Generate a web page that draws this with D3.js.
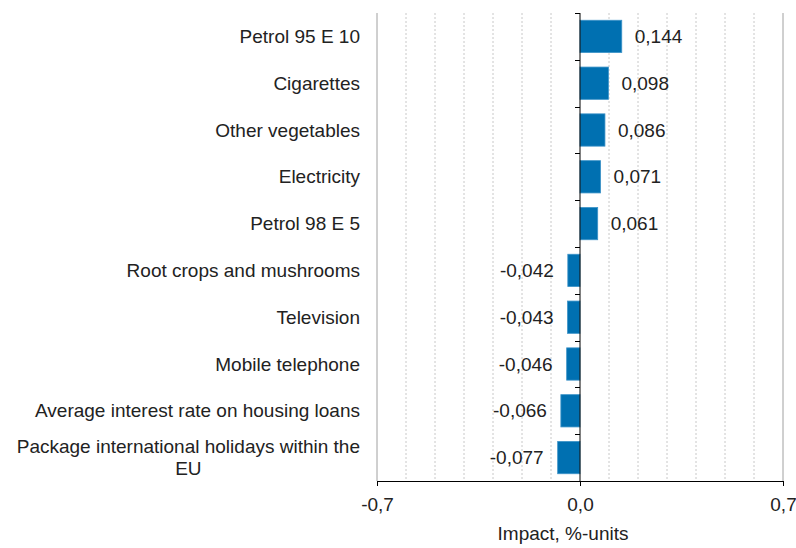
<!DOCTYPE html>
<html>
<head>
<meta charset="utf-8">
<script src="https://cdn.jsdelivr.net/npm/d3@7"></script>
<style>
  body { margin: 0; background: #fff; }
  text { font-family: "Liberation Sans", Arial, sans-serif; fill: #222; }
</style>
</head>
<body>
<div id="chart"></div>
<script>
// values
var categories = [
  'Petrol 95 E 10',
  'Cigarettes',
  'Other vegetables',
  'Electricity',
  'Petrol 98 E 5',
  'Root crops and mushrooms',
  'Television',
  'Mobile telephone',
  'Average interest rate on housing loans',
  'Package international holidays within the EU'
];
var impacts = [0.144, 0.098, 0.086, 0.071, 0.061, -0.042, -0.043, -0.046, -0.066, -0.077];
var xTicks = [-0.7, 0, 0.7];
var gridTicks = [-0.6, -0.5, -0.4, -0.3, -0.2, -0.1, 0.1, 0.2, 0.3, 0.4, 0.5, 0.6];

var margin = { top: 13, right: 13, bottom: 67, left: 377 },
    width = 796 - margin.left - margin.right,
    height = 548 - margin.top - margin.bottom,
    fontSize = '19px';

// comma decimals, plain hyphen for minus
var fmt = function(v) { return d3.format('.3f')(v).replace('.', ',').replace('\u2212', '-'); };

var svg = d3.select('#chart').append('svg')
    .attr('width', 796)
    .attr('height', 548);

var g = svg.append('g')
    .attr('transform', 'translate(' + margin.left + ',' + margin.top + ')');

var x = d3.scaleLinear().domain([-0.7, 0.7]).range([0, width]);
var y = d3.scaleBand().domain(categories).range([0, height]).paddingInner(0.31).paddingOuter(0.155);
var yTicks = d3.scaleBand().domain(categories).range([0, height]);

// gridlines
g.selectAll('.grid').data(gridTicks)
  .enter().append('line')
    .attr('x1', function(d) { return x(d); })
    .attr('x2', function(d) { return x(d); })
    .attr('y1', 0).attr('y2', height)
    .attr('stroke', '#c8c8c8')
    .attr('stroke-dasharray', '2,2');

g.selectAll('.edge').data([-0.7, 0.7])
  .enter().append('line')
    .attr('x1', function(d) { return x(d); })
    .attr('x2', function(d) { return x(d); })
    .attr('y1', 0).attr('y2', height)
    .attr('stroke', '#a0a0a0');

// bars
g.selectAll('rect').data(impacts)
  .enter().append('rect')
    .attr('x', function(d) { return x(Math.min(0, d)); })
    .attr('width', function(d) { return Math.abs(x(d) - x(0)); })
    .attr('y', function(d, i) { return y(categories[i]); })
    .attr('height', y.bandwidth())
    .attr('fill', '#0070b1')
    .attr('stroke', '#3d93c8')
    .attr('stroke-width', 0.8);

// value labels
g.selectAll('.val').data(impacts)
  .enter().append('text')
    .attr('x', function(d) { return d >= 0 ? x(d) + 13 : x(d) - 14; })
    .attr('y', function(d, i) { return y(categories[i]) + y.bandwidth() / 2; })
    .attr('dy', '0.35em')
    .attr('text-anchor', function(d) { return d >= 0 ? 'start' : 'end'; })
    .style('font-size', fontSize)
    .text(fmt);

// y axis at zero
var yAxis = g.append('g').attr('transform', 'translate(' + x(0) + ',0)');
yAxis.append('line')
    .attr('y1', 0).attr('y2', height)
    .attr('stroke', '#000');
yAxis.selectAll('.tk').data(categories)
  .enter().append('line')
    .attr('x1', -5).attr('x2', 0)
    .attr('y1', function(d) { return Math.round(yTicks(d)) + 0.5; })
    .attr('y2', function(d) { return Math.round(yTicks(d)) + 0.5; })
    .attr('stroke', '#000');

// x axis
var xAxis = d3.axisBottom(x)
    .tickValues(xTicks)
    .tickSize(5)
    .tickSizeOuter(0)
    .tickFormat(function(d) { return d3.format('.1f')(d).replace('.', ',').replace('\u2212', '-'); });

var xg = g.append('g')
    .attr('transform', 'translate(0,' + height + ')')
    .call(xAxis);
xg.select('.domain').attr('stroke', '#000');
xg.selectAll('.tick line').attr('stroke', '#000');
xg.selectAll('.tick text')
    .attr('y', 17)
    .style('font-size', fontSize)
    .style('font-family', '"Liberation Sans", Arial, sans-serif')
    .attr('fill', '#222');

g.append('text')
    .attr('x', x(0) - 17)
    .attr('y', height + 59)
    .attr('text-anchor', 'middle')
    .style('font-size', fontSize)
    .text('Impact, %-units');

// category labels
var labelRight = x(-0.7) - 17;
categories.forEach(function(c, i) {
  var cy = yTicks(c) + yTicks.bandwidth() / 2;
  if (c.length > 40) {
    var first = 'Package international holidays within the';
    var rest = c.slice(first.length + 1);
    var t1 = g.append('text')
        .attr('x', labelRight).attr('y', cy - 11).attr('dy', '0.35em')
        .attr('text-anchor', 'end')
        .style('font-size', fontSize)
        .text(first);
    var w = t1.node().getComputedTextLength();
    g.append('text')
        .attr('x', labelRight - w / 2).attr('y', cy + 11).attr('dy', '0.35em')
        .attr('text-anchor', 'middle')
        .style('font-size', fontSize)
        .text(rest);
  } else {
    g.append('text')
        .attr('x', labelRight).attr('y', cy).attr('dy', '0.35em')
        .attr('text-anchor', 'end')
        .style('font-size', fontSize)
        .text(c);
  }
});
</script>
</body>
</html>
